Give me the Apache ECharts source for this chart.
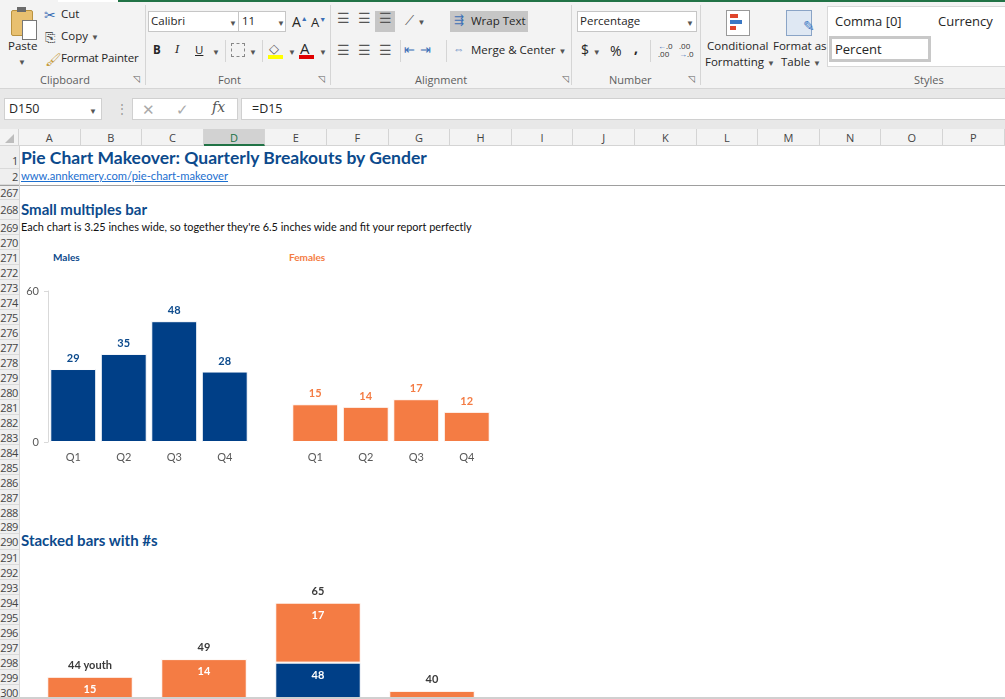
<!DOCTYPE html>
<html>
<head>
<meta charset="utf-8">
<script src="https://cdn.jsdelivr.net/npm/echarts@6/dist/echarts.min.js"></script>
<style>
html,body{margin:0;padding:0;width:1005px;height:699px;overflow:hidden;background:#fff;}
body{position:relative;font-family:"Open Sans","Noto Sans",sans-serif;color:#262626;}
.abs{position:absolute;white-space:nowrap;}
.rb{font-size:11.5px;color:#262626;}
.grp{font-size:11px;color:#5e5e5e;}
.box{position:absolute;background:#fff;border:1px solid #c6c6c6;box-sizing:border-box;}
.sep{position:absolute;width:1px;background:#d5d5d5;}
.dd{font-size:8px;color:#555;}
.sheet{font-family:Lato,"Noto Sans",sans-serif;}
#rowhdr div{position:absolute;left:0;width:19px;box-sizing:border-box;border-bottom:1px solid #dadada;background:#efefef;font-size:11px;color:#444;text-align:right;padding-right:1px;font-family:"Open Sans",sans-serif;letter-spacing:-0.4px;}
#colhdr div{position:absolute;top:129px;height:17px;box-sizing:border-box;border-right:1px solid #d4d4d4;background:#f3f3f3;font-size:11px;color:#444;text-align:center;line-height:17px;border-bottom:1px solid #d4d4d4;}
#chart{position:absolute;left:0;top:0;width:1005px;height:900px;}
</style>
</head>
<body>
<!-- ribbon -->
<div class="abs" style="left:0;top:0;width:1005px;height:88px;background:#f3f3f3;"></div>
<div class="abs" style="left:110px;top:0;width:895px;height:2px;background:#217346;"></div>
<div class="abs" style="left:58px;top:0;width:60px;height:2px;background:#fff;"></div>

<!-- clipboard -->
<div class="abs" style="left:11px;top:10px;width:20px;height:24px;background:#e8c070;border:1px solid #b99240;border-radius:2px;"></div>
<div class="abs" style="left:17px;top:7px;width:9px;height:5px;background:#6b6b6b;"></div>
<div class="abs" style="left:22px;top:20px;width:13px;height:18px;background:#fff;border:1px solid #777;"></div>
<div class="abs rb" style="left:8px;top:38px;">Paste</div>
<div class="abs dd" style="left:18px;top:56px;">▼</div>
<div class="abs rb" style="left:44px;top:5px;color:#3b6fb6;font-size:14px;">✂</div>
<div class="abs rb" style="left:61px;top:6px;">Cut</div>
<div class="abs rb" style="left:45px;top:28px;color:#555;font-size:13px;">⎘</div>
<div class="abs rb" style="left:61px;top:28px;">Copy <span class="dd">▼</span></div>
<div class="abs rb" style="left:45px;top:50px;color:#c49a3a;font-size:13px;">🖌</div>
<div class="abs rb" style="left:61px;top:50px;letter-spacing:-0.2px;">Format Painter</div>
<div class="abs grp" style="left:40px;top:72px;">Clipboard</div>
<div class="abs grp" style="left:133px;top:72px;font-size:9px;">◹</div>
<div class="sep" style="left:145px;top:5px;height:80px;"></div>

<!-- font -->
<div class="box" style="left:148px;top:11px;width:91px;height:21px;"></div>
<div class="abs rb" style="left:151px;top:13px;">Calibri</div>
<div class="abs dd" style="left:229px;top:17px;">▼</div>
<div class="box" style="left:238px;top:11px;width:48px;height:21px;"></div>
<div class="abs rb" style="left:242px;top:13px;">11</div>
<div class="abs dd" style="left:277px;top:17px;">▼</div>
<div class="abs rb" style="left:292px;top:12px;font-size:14px;">A<sup style="font-size:7px;color:#3b6fb6;">▲</sup></div>
<div class="abs rb" style="left:311px;top:13px;font-size:13px;">A<sup style="font-size:7px;color:#3b6fb6;">▼</sup></div>
<div class="abs rb" style="left:153px;top:42px;font-weight:bold;">B</div>
<div class="abs rb" style="left:175px;top:42px;font-style:italic;font-family:'DejaVu Serif';">I</div>
<div class="abs rb" style="left:195px;top:42px;text-decoration:underline;">U</div>
<div class="abs dd" style="left:212px;top:46px;">▼</div>
<div class="sep" style="left:225px;top:40px;height:22px;"></div>
<div class="abs" style="left:231px;top:43px;width:12px;height:12px;border:1px dashed #888;"></div>
<div class="abs dd" style="left:249px;top:46px;">▼</div>
<div class="sep" style="left:262px;top:40px;height:22px;"></div>
<div class="abs rb" style="left:269px;top:39px;font-size:13px;color:#555;">◇</div>
<div class="abs" style="left:268px;top:55px;width:15px;height:4px;background:#ffff00;"></div>
<div class="abs dd" style="left:288px;top:46px;">▼</div>
<div class="abs rb" style="left:300px;top:38px;font-size:15px;">A</div>
<div class="abs" style="left:299px;top:55px;width:15px;height:4px;background:#e00000;"></div>
<div class="abs dd" style="left:319px;top:46px;">▼</div>
<div class="abs grp" style="left:218px;top:72px;">Font</div>
<div class="abs grp" style="left:318px;top:72px;font-size:9px;">◹</div>
<div class="sep" style="left:330px;top:5px;height:80px;"></div>

<!-- alignment -->
<div class="abs" style="left:375px;top:11px;width:20px;height:21px;background:#c6c6c6;"></div>
<div class="abs rb" style="left:337px;top:8px;font-size:14px;color:#555;letter-spacing:8px;">☰☰☰</div>
<div class="abs rb" style="left:405px;top:11px;font-size:13px;color:#555;">⟋ <span class="dd">▼</span></div>
<div class="abs rb" style="left:337px;top:40px;font-size:14px;color:#555;letter-spacing:8px;">☰☰☰</div>
<div class="sep" style="left:400px;top:40px;height:22px;"></div>
<div class="abs rb" style="left:404px;top:40px;font-size:13px;color:#3b6fb6;letter-spacing:5px;">⇤⇥</div>
<div class="sep" style="left:446px;top:40px;height:22px;"></div>
<div class="abs" style="left:450px;top:11px;width:78px;height:21px;background:#c6c6c6;"></div>
<div class="abs rb" style="left:454px;top:12px;color:#3b6fb6;">⇶</div>
<div class="abs rb" style="left:471px;top:13px;">Wrap Text</div>
<div class="abs rb" style="left:453px;top:41px;color:#3b6fb6;">⇔</div>
<div class="abs rb" style="left:471px;top:42px;">Merge &amp; Center <span class="dd">▼</span></div>
<div class="abs grp" style="left:415px;top:72px;">Alignment</div>
<div class="abs grp" style="left:562px;top:72px;font-size:9px;">◹</div>
<div class="sep" style="left:571px;top:5px;height:80px;"></div>

<!-- number -->
<div class="box" style="left:577px;top:11px;width:120px;height:21px;"></div>
<div class="abs rb" style="left:580px;top:13px;">Percentage</div>
<div class="abs dd" style="left:686px;top:17px;">▼</div>
<div class="abs rb" style="left:581px;top:40px;font-size:14px;">$ <span class="dd">▼</span></div>
<div class="abs rb" style="left:610px;top:41px;font-size:14px;">%</div>
<div class="abs rb" style="left:634px;top:38px;font-size:14px;font-weight:bold;">,</div>
<div class="sep" style="left:650px;top:40px;height:22px;"></div>
<div class="abs" style="left:658px;top:42px;font-size:8px;line-height:8px;color:#333;"><span style="color:#3b6fb6;">←</span>.0<br>.00</div>
<div class="abs" style="left:679px;top:42px;font-size:8px;line-height:8px;color:#333;">.00<br><span style="color:#3b6fb6;">→</span>.0</div>
<div class="abs grp" style="left:609px;top:72px;">Number</div>
<div class="abs grp" style="left:688px;top:72px;font-size:9px;">◹</div>
<div class="sep" style="left:700px;top:5px;height:80px;"></div>

<!-- styles -->
<div class="abs" style="left:726px;top:10px;width:22px;height:24px;background:#fff;border:1px solid #999;"></div>
<div class="abs" style="left:730px;top:14px;width:8px;height:4px;background:#e0452b;"></div>
<div class="abs" style="left:730px;top:20px;width:12px;height:4px;background:#3b78c4;"></div>
<div class="abs" style="left:730px;top:26px;width:6px;height:4px;background:#e0452b;"></div>
<div class="abs rb" style="left:707px;top:38px;">Conditional</div>
<div class="abs rb" style="left:705px;top:54px;">Formatting <span class="dd">▼</span></div>
<div class="abs" style="left:786px;top:10px;width:24px;height:24px;background:#dfe8f3;border:1px solid #8aa4c6;"></div>
<div class="abs rb" style="left:803px;top:16px;color:#3b78c4;font-size:14px;">✎</div>
<div class="abs rb" style="left:773px;top:38px;">Format as</div>
<div class="abs rb" style="left:781px;top:54px;">Table <span class="dd">▼</span></div>
<div class="abs" style="left:827px;top:6px;width:178px;height:59px;background:#fff;border:1px solid #d8d8d8;border-right:none;"></div>
<div class="abs rb" style="left:835px;top:12px;font-size:13px;">Comma [0]</div>
<div class="abs rb" style="left:938px;top:12px;font-size:13px;">Currency</div>
<div class="abs" style="left:829px;top:36px;width:102px;height:26px;box-sizing:border-box;border:3px solid #c8c8c8;background:#fff;"></div>
<div class="abs rb" style="left:835px;top:40px;font-size:13px;">Percent</div>
<div class="abs grp" style="left:914px;top:72px;">Styles</div>

<!-- formula bar -->
<div class="abs" style="left:0;top:88px;width:1005px;height:41px;background:#e8e8e8;"></div>
<div class="abs" style="left:0;top:88px;width:1005px;height:1px;background:#d5d5d5;"></div>
<div class="box" style="left:4px;top:98px;width:98px;height:22px;border-color:#d0d0d0;"></div>
<div class="abs rb" style="left:9px;top:100px;font-size:12.5px;">D150</div>
<div class="abs dd" style="left:89px;top:105px;">▼</div>
<div class="abs" style="left:116px;top:100px;font-size:12px;color:#999;">⋮</div>
<div class="box" style="left:132px;top:98px;width:106px;height:22px;border-color:#d0d0d0;"></div>
<div class="abs" style="left:142px;top:99px;font-size:15px;color:#aaa;">✕</div>
<div class="abs" style="left:176px;top:99px;font-size:15px;color:#aaa;">✓</div>
<div class="abs" style="left:212px;top:99px;font-size:14px;color:#555;font-style:italic;font-family:'DejaVu Serif';">fx</div>
<div class="box" style="left:241px;top:98px;width:770px;height:22px;border-color:#d0d0d0;"></div>
<div class="abs rb" style="left:252px;top:100px;font-size:12.5px;">=D15</div>

<!-- headers -->
<div class="abs" style="left:0;top:129px;width:19px;height:17px;background:#f3f3f3;border-right:1px solid #d4d4d4;border-bottom:1px solid #d4d4d4;box-sizing:border-box;"></div>
<div class="abs" style="left:5px;top:134px;width:0;height:0;border-left:9px solid transparent;border-bottom:9px solid #bdbdbd;"></div>
<div id="colhdr"></div>
<div id="rowhdr"></div>
<div class="abs" style="left:0;top:185px;width:1005px;height:1px;background:#9e9e9e;"></div>

<!-- sheet text -->
<div class="abs sheet" style="left:21px;top:147px;font-size:17.5px;font-weight:bold;color:#0c4a8c;">Pie Chart Makeover: Quarterly Breakouts by Gender</div>
<div class="abs sheet" style="left:21px;top:169px;font-size:11.2px;color:#1c6fcf;text-decoration:underline;">www.annkemery.com/pie-chart-makeover</div>
<div class="abs sheet" style="left:21px;top:200px;font-size:15px;font-weight:bold;color:#0c4a8c;">Small multiples bar</div>
<div class="abs sheet" style="left:21px;top:220px;font-size:10.9px;color:#111;">Each chart is 3.25 inches wide, so together they're 6.5 inches wide and fit your report perfectly</div>
<div class="abs sheet" style="left:53px;top:251px;font-size:10px;font-weight:bold;color:#0c4a8c;">Males</div>
<div class="abs sheet" style="left:289px;top:251px;font-size:10px;font-weight:bold;color:#f47c44;">Females</div>
<div class="abs sheet" style="left:21px;top:531px;font-size:15px;font-weight:bold;color:#0c4a8c;">Stacked bars with #s</div>

<div id="chart"></div>
<div class="abs" style="left:0;top:697px;width:1005px;height:2px;background:#d0d0d0;"></div>

<script>
// chart data
var quarters = ['Q1', 'Q2', 'Q3', 'Q4'];
var males = [29, 35, 48, 28];
var females = [15, 14, 17, 12];
var totalLabels = ['44 youth', '49', '65', '40'];
var smallMax = 60;
var stackMax = 70;

// sheet chrome
var colNames = ['A','B','C','D','E','F','G','H','I','J','K','L','M','N','O','P'];
var rowNames = [1, 2, 267, 268, 269, 270, 271, 272, 273, 274, 275, 276, 277, 278, 279, 280, 281, 282, 283, 284, 285, 286, 287, 288, 289, 290, 291, 292, 293, 294, 295, 296, 297, 298, 299, 300];
var rowHeights = [23, 16, 15, 20, 15, 15, 15, 15, 15, 15, 15, 15, 15, 15, 15, 15, 15, 15, 15, 15, 15, 15, 15, 15, 14, 16, 15, 15, 15, 15, 15, 15, 15, 15, 15, 15];

var navy = '#003f87';
var orange = '#f47c44';

(function(){
	var ch = document.getElementById('colhdr');
	var w = 61.6;
	colNames.forEach(function(c, i){
		var d = document.createElement('div');
		d.style.left = (19 + i * w) + 'px';
		d.style.width = w + 'px';
		d.textContent = c;
		if (c == 'D') {
			d.style.background = '#d2d2d2';
			d.style.borderBottom = '2px solid #217346';
			d.style.color = '#217346';
		}
		ch.appendChild(d);
	});
	var rh = document.getElementById('rowhdr');
	var y = 146;
	rowNames.forEach(function(r, i){
		var d = document.createElement('div');
		d.style.top = y + 'px';
		d.style.height = rowHeights[i] + 'px';
		d.style.lineHeight = (rowHeights[i] + (i == 0 ? 6 : 0)) + 'px';
		d.textContent = r;
		rh.appendChild(d);
		y += rowHeights[i];
	});
	var line = document.createElement('div');
	line.className = 'abs';
	line.style.cssText = 'left:19px;top:146px;width:1px;height:560px;background:#d4d4d4;';
	document.body.appendChild(line);
})();

var totals = males.map(function(v, i){ return v + females[i]; });

var valueLabel = function(color){
	return { show: true, position: 'top', distance: 5, color: color, fontWeight: 'bold', fontSize: 11, fontFamily: 'Lato' };
};
var innerLabel = { show: true, position: 'insideTop', distance: 7, color: '#fff', fontWeight: 'bold', fontSize: 11, fontFamily: 'Lato' };
var catAxis = function(idx){
	return {
		type: 'category', gridIndex: idx, data: quarters,
		axisLine: { show: false }, axisTick: { show: false },
		axisLabel: { color: '#595959', fontSize: 11, margin: 10, fontFamily: 'Lato' }
	};
};

var option = {
	animation: false,
	grid: [
		{ left: 48, top: 291, width: 202, height: 151 },
		{ left: 290, top: 291, width: 202, height: 151 },
		{ left: 33, top: 585, width: 456, height: 247 }
	],
	xAxis: [catAxis(0), catAxis(1), catAxis(2)],
	yAxis: [
		{
			type: 'value', gridIndex: 0, min: 0, max: smallMax, interval: smallMax,
			axisLine: { show: true, lineStyle: { color: '#d9d9d9' } },
			axisTick: { show: true, length: 4, lineStyle: { color: '#d9d9d9' } },
			splitLine: { show: false },
			axisLabel: { color: '#595959', fontSize: 11, margin: 9, fontFamily: 'Lato' }
		},
		{ type: 'value', gridIndex: 1, min: 0, max: smallMax, show: false, splitLine: { show: false } },
		{ type: 'value', gridIndex: 2, min: 0, max: stackMax, show: false, splitLine: { show: false } }
	],
	series: [
		{
			name: 'Males', type: 'bar', xAxisIndex: 0, yAxisIndex: 0, data: males,
			barCategoryGap: '9%', itemStyle: { color: navy, borderColor: '#fff', borderWidth: 1 },
			label: valueLabel('#0c4a8c')
		},
		{
			name: 'Females', type: 'bar', xAxisIndex: 1, yAxisIndex: 1, data: females,
			barCategoryGap: '9%', itemStyle: { color: orange, borderColor: '#fff', borderWidth: 1 },
			label: valueLabel(orange)
		},
		{
			name: 'Males', type: 'bar', xAxisIndex: 2, yAxisIndex: 2, stack: 'youth', data: males,
			barCategoryGap: '25%', itemStyle: { color: navy, borderColor: '#fff', borderWidth: 1 },
			label: innerLabel
		},
		{
			name: 'Females', type: 'bar', xAxisIndex: 2, yAxisIndex: 2, stack: 'youth', data: females,
			barCategoryGap: '25%', itemStyle: { color: orange, borderColor: '#fff', borderWidth: 1 },
			label: innerLabel
		},
		{
			name: 'Total', type: 'custom', xAxisIndex: 2, yAxisIndex: 2,
			data: totals.map(function(v, i){ return [i, v]; }),
			renderItem: function(params, api){
				var pt = api.coord([api.value(0), api.value(1)]);
				return {
					type: 'text', x: pt[0], y: pt[1] - 6,
					style: {
						text: totalLabels[params.dataIndex], fill: '#3a3a3a',
						font: 'bold 11px Lato', align: 'center', verticalAlign: 'bottom'
					}
				};
			}
		}
	]
};

var chart = echarts.init(document.getElementById('chart'));
chart.setOption(option);
</script>
</body>
</html>
